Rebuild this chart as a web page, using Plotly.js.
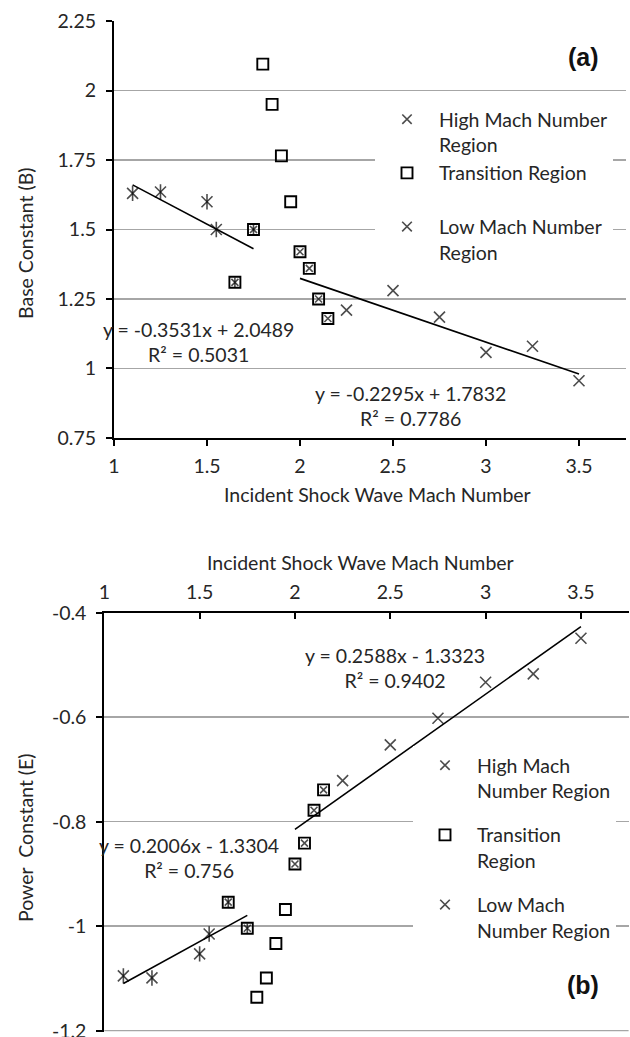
<!DOCTYPE html>
<html>
<head>
<meta charset="utf-8">
<script src="https://cdn.plot.ly/plotly-3.0.1.min.js"></script>
<style>html,body{margin:0;padding:0;background:#fff;}</style>
</head>
<body>
<div id="chart" style="width:630px;height:1037px;"></div>
<script>
// ---------- Data ----------
// Panel (a): Base constant B
var lowX = [1.1, 1.25, 1.5, 1.55, 1.65, 1.75];
var lowB = [1.63, 1.635, 1.60, 1.50, 1.31, 1.50];
var transX = [1.65, 1.75, 1.8, 1.85, 1.9, 1.95, 2.0, 2.05, 2.1, 2.15];
var transB = [1.31, 1.50, 2.095, 1.95, 1.765, 1.60, 1.42, 1.36, 1.25, 1.18];
var highX = [2.0, 2.05, 2.1, 2.15, 2.25, 2.5, 2.75, 3.0, 3.25, 3.5];
var highB = [1.42, 1.36, 1.25, 1.18, 1.21, 1.28, 1.185, 1.058, 1.08, 0.956];
// Panel (b): Power constant E
var lowE = [-1.095, -1.099, -1.053, -1.015, -0.954, -1.004];
var transE = [-0.954, -1.004, -1.136, -1.099, -1.033, -0.968, -0.881, -0.841, -0.778, -0.739];
var highE = [-0.881, -0.841, -0.778, -0.739, -0.7215, -0.653, -0.602, -0.533, -0.517, -0.449];
// Linear fits [low, high]
var slopeB = [-0.3531, -0.2295];
var interceptB = [2.0489, 1.7832];
var r2B = ['0.5031', '0.7786'];
var slopeE = [0.2006, 0.2588];
var interceptE = [-1.3304, -1.3323];
var r2E = ['0.756', '0.9402'];
// Names and ticks
var seriesNames = ['High Mach Number Region', 'Transition Region', 'Low Mach Number Region'];
var xTicks = [1, 1.5, 2, 2.5, 3, 3.5];
var xTickText = ['1', '1.5', '2', '2.5', '3', '3.5'];
var bTicks = [0.75, 1, 1.25, 1.5, 1.75, 2, 2.25];
var bTickText = ['0.75', '1', '1.25', '1.5', '1.75', '2', '2.25'];
var eTicks = [-1.2, -1, -0.8, -0.6, -0.4];
var eTickText = ['-1.2', '-1', '-0.8', '-0.6', '-0.4'];

// ---------- Helpers ----------
var FONT = 'Lato, "Open Sans", sans-serif';
var TXT = '#262626';
var GRID = '#a6a6a6';
function fmtEq(m, b) {
  return 'y = ' + (m < 0 ? '-' : '') + Math.abs(m).toFixed(4) + 'x ' + (b < 0 ? '- ' : '+ ') + Math.abs(b).toFixed(4);
}
function lineXY(xs, m, b) {
  var x0 = Math.min.apply(null, xs), x1 = Math.max.apply(null, xs);
  return {x: [x0, x1], y: [m * x0 + b, m * x1 + b]};
}
function sizesIn(xs, other, small, big) {
  return xs.map(function (v) { return other.indexOf(v) >= 0 ? small : big; });
}

function panelTraces(xa, ya, legendId, yLow, yTrans, yHigh, slopes, ints, grp, names) {
  var t = [];
  var lowFit = lineXY(lowX, slopes[0], ints[0]);
  var highFit = lineXY(highX, slopes[1], ints[1]);
  t.push({x: lowFit.x, y: lowFit.y, xaxis: xa, yaxis: ya, mode: 'lines', line: {color: '#000', width: 1.6}, showlegend: false, hoverinfo: 'skip'});
  t.push({x: highFit.x, y: highFit.y, xaxis: xa, yaxis: ya, mode: 'lines', line: {color: '#000', width: 1.6}, showlegend: false, hoverinfo: 'skip'});
  t.push({x: highX, y: yHigh, xaxis: xa, yaxis: ya, mode: 'markers', name: names[0], legend: legendId, legendgroup: grp + 'h',
    marker: {symbol: 'x-thin-open', size: sizesIn(highX, transX, 7, 11), color: '#000', line: {color: '#000', width: 1.6}}});
  t.push({x: transX, y: yTrans, xaxis: xa, yaxis: ya, mode: 'markers', name: names[1], legend: legendId, legendgroup: grp + 't',
    marker: {symbol: 'square-open', size: 11, color: '#000', line: {color: '#000', width: 1.9}}});
  t.push({x: lowX, y: yLow, xaxis: xa, yaxis: ya, mode: 'markers', name: names[2], legend: legendId, legendgroup: grp + 'l',
    marker: {symbol: 'x-thin-open', size: sizesIn(lowX, transX, 7, 11), color: '#000', line: {color: '#000', width: 1.6}}});
  t.push({x: lowX, y: yLow, xaxis: xa, yaxis: ya, mode: 'markers', showlegend: false, legendgroup: grp + 'l', hoverinfo: 'skip',
    marker: {symbol: 'line-ns-open', size: sizesIn(lowX, transX, 7, 11), color: '#000', line: {color: '#000', width: 1.6}}});
  return t;
}

var traces = []
  .concat(panelTraces('x', 'y', 'legend', lowB, transB, highB, slopeB, interceptB, 'a',
    [seriesNames[0].replace('Number Region', 'Number<br>Region'), seriesNames[1] + '<br>&nbsp;', seriesNames[2].replace('Number Region', 'Number<br>Region')]))
  .concat(panelTraces('x2', 'y2', 'legend2', lowE, transE, highE, slopeE, interceptE, 'b',
    [seriesNames[0].replace('Mach ', 'Mach<br>'), seriesNames[1].replace(' ', '<br>'), seriesNames[2].replace('Mach ', 'Mach<br>')]));

var W = 630, H = 1037;
function px(x) { return x / W; }
function py(y) { return 1 - y / H; }

var axCommon = {
  showline: true, linecolor: '#000', linewidth: 2, zeroline: false, ticklabeloverflow: 'allow',
  tickcolor: '#000', tickwidth: 2, ticklen: 6, tickfont: {family: FONT, size: 19.5, color: TXT}, fixedrange: true
};

function ann(text, x, y, extra) {
  return Object.assign({text: text, xref: 'paper', yref: 'paper', x: px(x), y: py(y), showarrow: false,
    xanchor: 'center', yanchor: 'middle', align: 'center'}, extra || {});
}

var boldFont = {family: '"Liberation Sans", Arial, sans-serif', size: 25, color: '#111'};

var layout = {
  width: W, height: H,
  margin: {l: 0, r: 0, t: 0, b: 0},
  paper_bgcolor: '#fff', plot_bgcolor: '#fff',
  font: {family: FONT, size: 19.5, color: TXT},
  showlegend: true,
  xaxis: Object.assign({}, axCommon, {domain: [px(114), px(625.5)], range: [1, 3.75], anchor: 'y',
    tickvals: xTicks, ticktext: xTickText, ticks: 'outside', showgrid: false, ticklabelstandoff: 4}),
  yaxis: Object.assign({}, axCommon, {domain: [py(438), py(21)], range: [0.7499, 2.2501], anchor: 'x',
    tickvals: bTicks, ticktext: bTickText, ticks: 'outside', showgrid: true, gridcolor: GRID, gridwidth: 1.5, ticklabelstandoff: 6}),
  xaxis2: Object.assign({}, axCommon, {domain: [px(104.3), px(628.6)], range: [1, 3.75], anchor: 'y2', side: 'top',
    tickvals: xTicks, ticktext: xTickText, ticks: 'inside', showgrid: false, ticklabelstandoff: 4}),
  yaxis2: Object.assign({}, axCommon, {domain: [py(1031.5), py(612.7)], range: [-1.2015, -0.4], anchor: 'x2',
    tickvals: eTicks, ticktext: eTickText, ticks: 'outside', showgrid: true, gridcolor: GRID, gridwidth: 1.5, ticklabelstandoff: 6}),
  legend: {x: px(375), xanchor: 'left', y: py(100), yanchor: 'top', bgcolor: '#fff', borderwidth: 0,
    itemwidth: 54, valign: 'top', font: {family: FONT, size: 19.5, color: TXT}, tracegroupgap: 0, traceorder: 'grouped', itemclick: false, itemdoubleclick: false},
  legend2: {x: px(413), xanchor: 'left', y: py(746), yanchor: 'top', bgcolor: '#fff', borderwidth: 0,
    itemwidth: 54, valign: 'top', font: {family: FONT, size: 19.5, color: TXT}, tracegroupgap: 16, traceorder: 'grouped', itemclick: false, itemdoubleclick: false},
  shapes: [
    // bottom gridline of panel (b) at the lowest tick
    {type: 'line', xref: 'x2 domain', x0: 0, x1: 1, yref: 'y2', y0: eTicks[0], y1: eTicks[0],
      line: {color: GRID, width: 1.5}, layer: 'below'}
  ],
  annotations: [
    ann('Incident Shock Wave Mach Number', 377.5, 495),
    ann('Incident Shock Wave Mach Number', 360, 562),
    ann('Base Constant (B)', 25, 243, {textangle: -90}),
    ann('Power\u00a0 Constant (E)', 25, 838, {textangle: -90}),
    ann('<b>(a)</b>', 583, 57, {font: boldFont}),
    ann('<b>(b)</b>', 583, 985, {font: boldFont}),
    ann(fmtEq(slopeB[0], interceptB[0]) + '<br>R\u00b2 = ' + r2B[0], 198, 341.5),
    ann(fmtEq(slopeB[1], interceptB[1]) + '<br>R\u00b2 = ' + r2B[1], 410.5, 406.3),
    ann(fmtEq(slopeE[1], interceptE[1]) + '<br>R\u00b2 = ' + r2E[1], 395, 668.3),
    ann(fmtEq(slopeE[0], interceptE[0]) + '<br>R\u00b2 = ' + r2E[0], 188.5, 857.5)
  ]
};

Plotly.newPlot('chart', traces, layout, {staticPlot: true, displayModeBar: false});
</script>
</body>
</html>
